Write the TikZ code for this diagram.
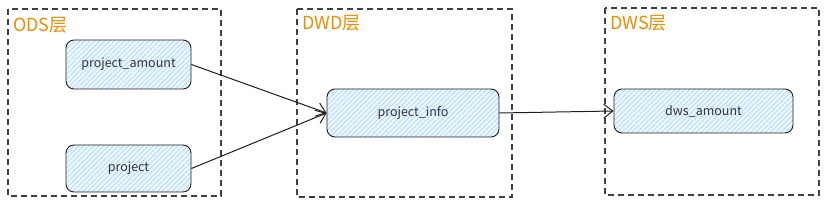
\documentclass[tikz,border=0pt]{standalone}
\usepackage{fontspec}
\setmainfont{Noto Sans CJK SC}
\usetikzlibrary{arrows.meta,patterns.meta}
\definecolor{lbl}{HTML}{F08C00}
\definecolor{hatch}{HTML}{A5D8FF}
\definecolor{bg}{HTML}{EEF7FF}
\definecolor{ink}{HTML}{1E1E1E}
\tikzset{
  layer/.style={draw=ink!85, line width=1.1pt, dash pattern=on 6pt off 4pt},
  layerlbl/.style={text=lbl, font=\fontsize{18}{20}\selectfont, anchor=north west, inner sep=0pt},
  tbl/.style={draw=ink, line width=0.9pt, rounded corners=8pt,
    preaction={fill=bg},
    pattern={Lines[angle=45,distance=3.5pt,line width=0.7pt]}, pattern color=hatch,
    font=\fontsize{12.5}{14}\selectfont, text=ink!90, inner sep=0pt},
  conn/.style={draw=ink, line width=1pt, -{Straight Barb[length=9pt,width=14pt,line width=1pt]}}
}
\begin{document}
\begin{tikzpicture}[x=1pt,y=-1pt]
\useasboundingbox (0,0) rectangle (827,205);
% layers
\draw[layer] (8,9) rectangle (221,196);
\draw[layer] (297,9) rectangle (512,197);
\draw[layer] (605,8) rectangle (819,195);
\node[layerlbl] (lods) at (13,17) {ODS层};
\node[layerlbl] (ldwd) at (302,15) {DWD层};
\node[layerlbl] (ldws) at (610,15) {DWS层};
% tables
\node[tbl, minimum width=125pt, minimum height=49pt] (pa) at (128.5,64.5) {project\_amount};
\node[tbl, minimum width=125pt, minimum height=47pt] (pr) at (128.5,168.5) {project};
\node[tbl, minimum width=172pt, minimum height=48pt] (pi) at (413,113) {project\_info};
\node[tbl, minimum width=179pt, minimum height=44pt] (da) at (703.5,111) {dws\_amount};
% connectors
\draw[conn] (pa.east) -- (pi.west);
\draw[conn] (pr.east) -- (pi.west);
\draw[conn] (pi.east) -- (da.west);
\end{tikzpicture}
\end{document}
